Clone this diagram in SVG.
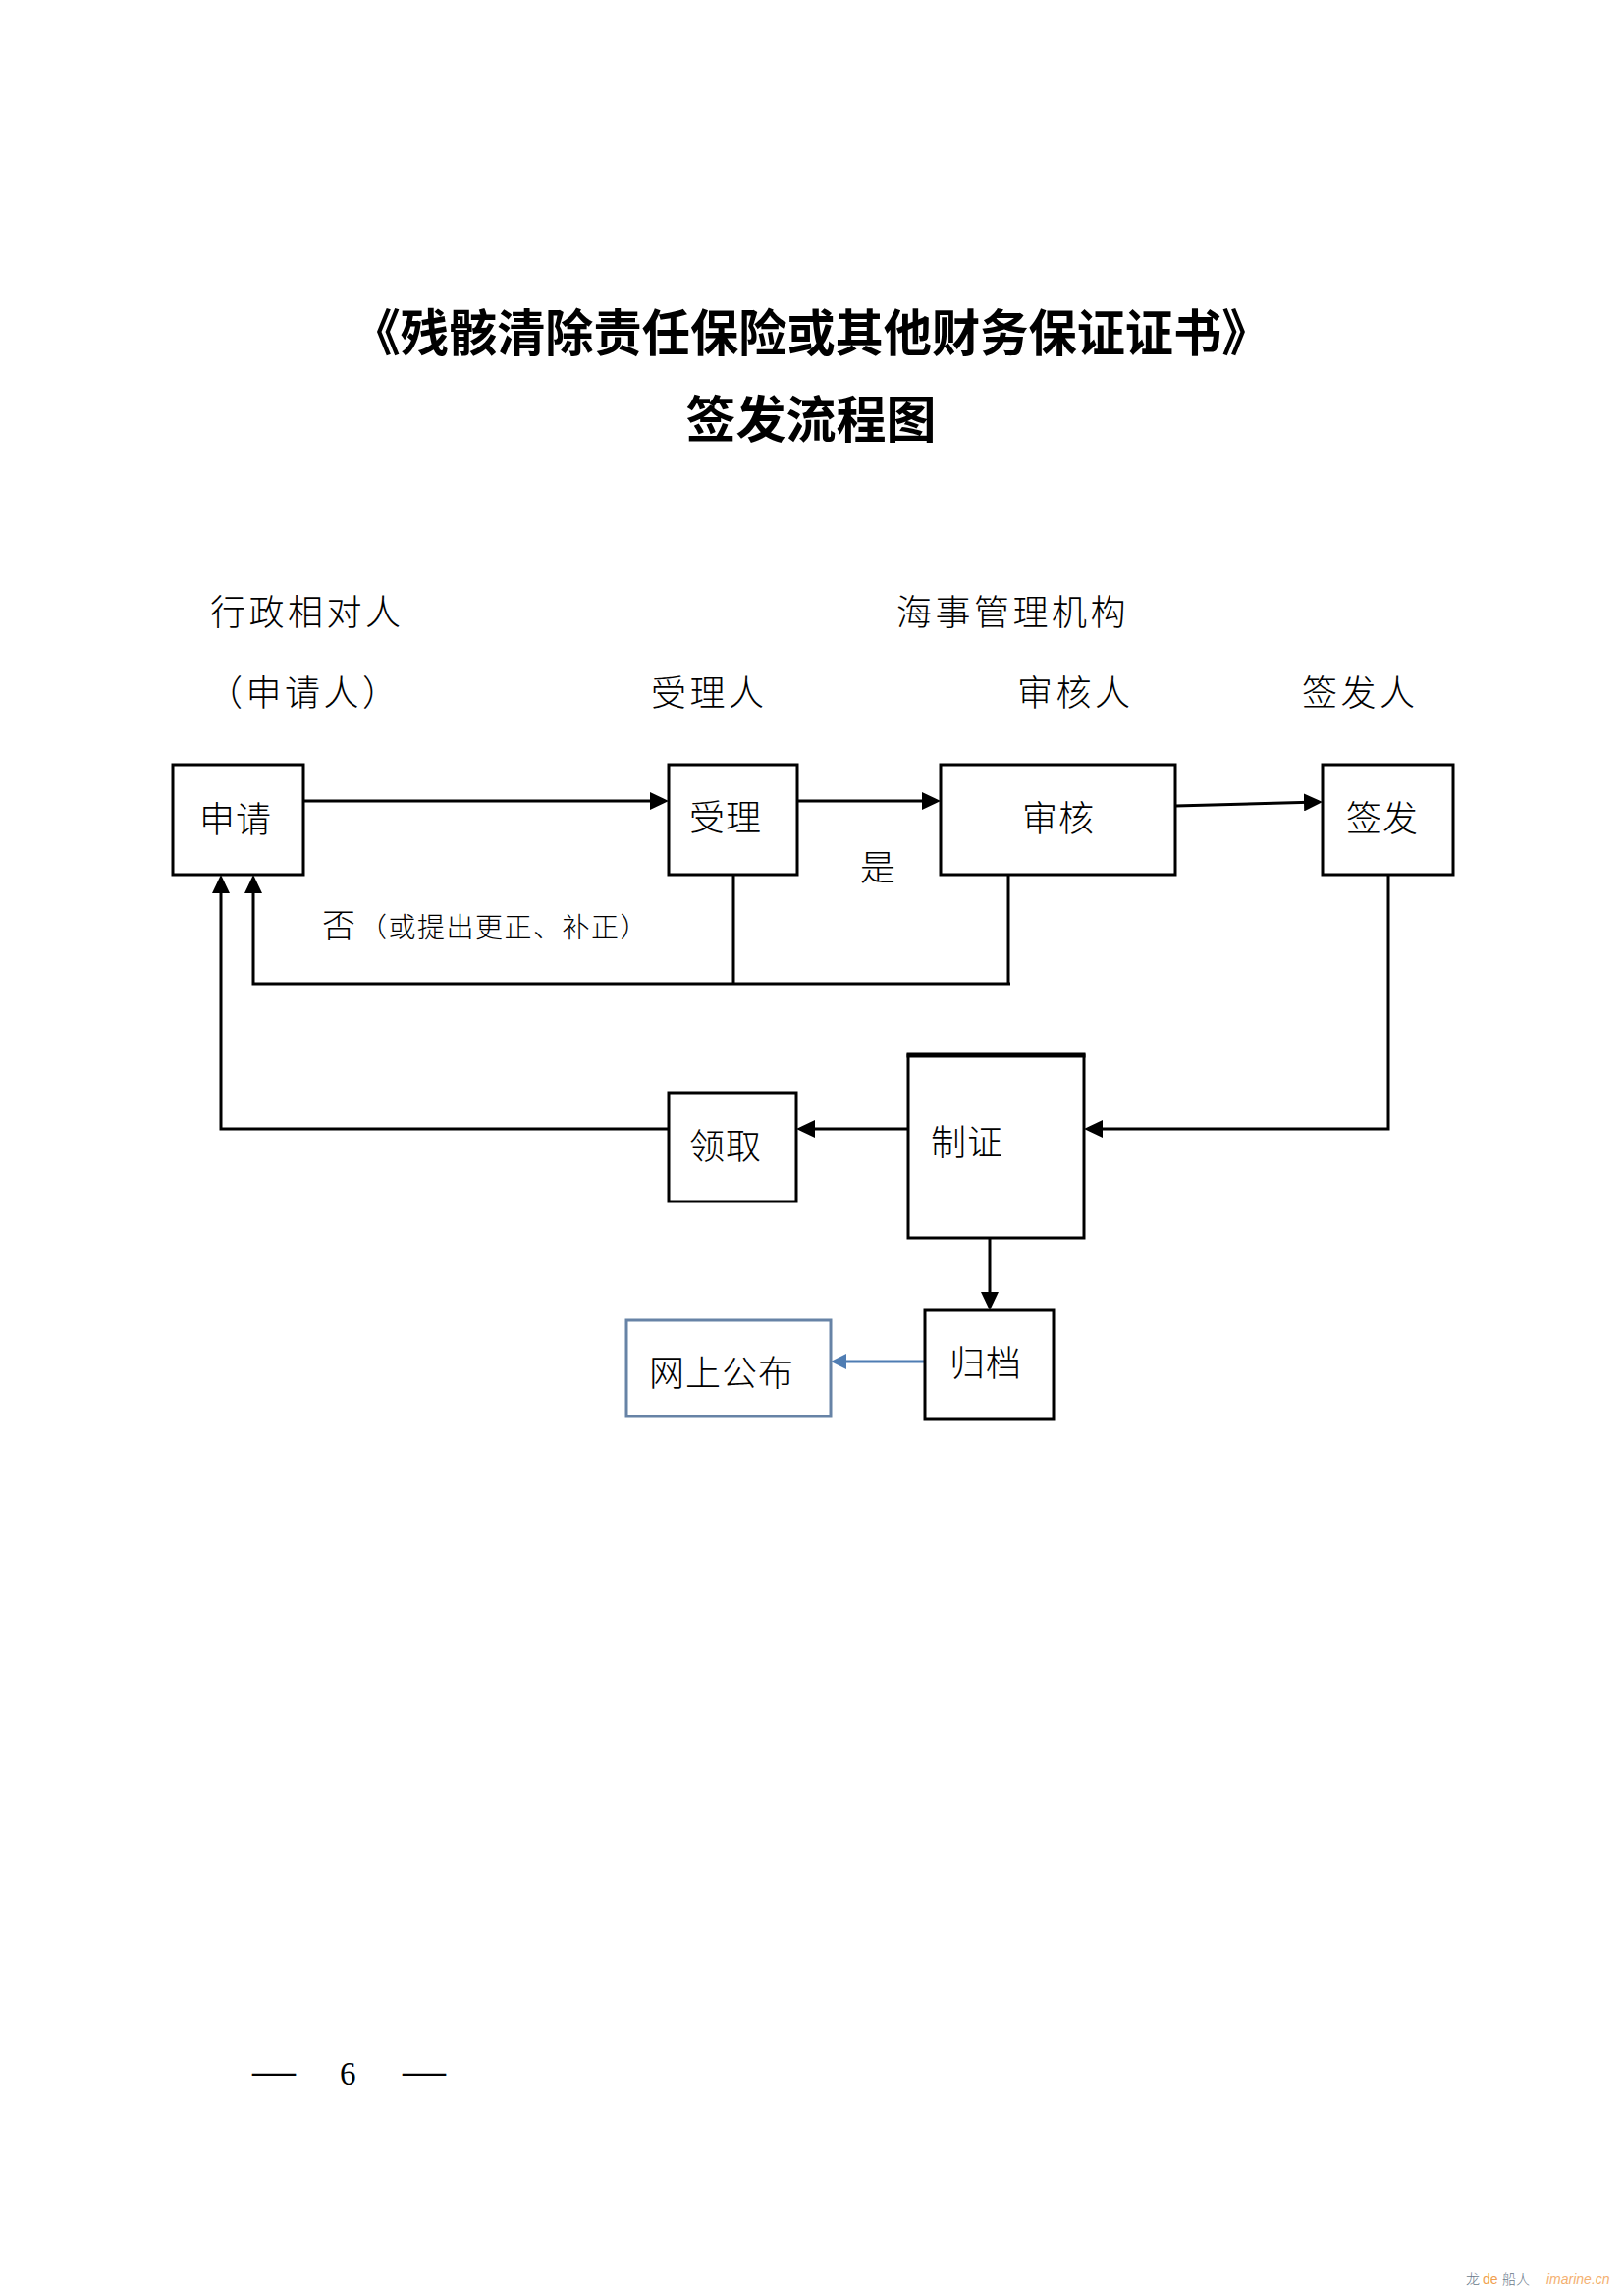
<svg xmlns="http://www.w3.org/2000/svg" width="1654" height="2339" viewBox="0 0 1654 2339">
<style>
  .cjk { font-family: "Noto Sans CJK SC", "Noto Sans", sans-serif; fill: #000; font-weight: 300; }
  .title { font-size: 51px; font-weight: 700; }
  .lbl { font-size: 36px; letter-spacing: 3.5px; }
  .box-t { font-size: 36px; letter-spacing: 1px; }
  .box { fill: #fff; stroke: #000; stroke-width: 3; }
  .blue-box { fill: #fff; stroke: #6783a6; stroke-width: 3; }
  .conn { fill: none; stroke: #000; stroke-width: 3; }
  .conn-blue { fill: none; stroke: #4f7db3; stroke-width: 3; }
</style>
<defs>
  <marker id="arr" viewBox="0 0 19 18" refX="15" refY="9" markerWidth="19" markerHeight="18" markerUnits="userSpaceOnUse" orient="auto">
    <path d="M0,0 L19,9 L0,18 Z" fill="#000"/>
  </marker>
  <marker id="arr-blue" viewBox="0 0 16 16" refX="12" refY="8" markerWidth="16" markerHeight="16" markerUnits="userSpaceOnUse" orient="auto">
    <path d="M0,0 L16,8 L0,16 Z" fill="#4f7db3"/>
  </marker>
</defs>
<rect width="1654" height="2339" fill="#fff"/>

<g id="title">
  <text class="cjk title" x="826" y="358" text-anchor="middle" textLength="935" lengthAdjust="spacingAndGlyphs">《残骸清除责任保险或其他财务保证证书》</text>
  <text class="cjk title" x="826" y="446" text-anchor="middle">签发流程图</text>
</g>

<g id="headers">
  <text class="cjk lbl" x="214" y="637">行政相对人</text>
  <text class="cjk lbl" x="211" y="719">（申请人）</text>
  <text class="cjk lbl" x="663" y="719">受理人</text>
  <text class="cjk lbl" x="913" y="637">海事管理机构</text>
  <text class="cjk lbl" x="1036" y="719">审核人</text>
  <text class="cjk lbl" x="1326" y="719">签发人</text>
</g>

<g id="connectors">
  <path class="conn" d="M309,816 H677" marker-end="url(#arr)"/>
  <path class="conn" d="M812,816 H954" marker-end="url(#arr)"/>
  <path class="conn" d="M1197,821 L1343,817" marker-end="url(#arr)"/>
  <path class="conn" d="M747,891 V1002"/>
  <path class="conn" d="M1027,891 V1002"/>
  <path class="conn" d="M1029,1002 H258 V895" marker-end="url(#arr)"/>
  <path class="conn" d="M1414,891 V1150 H1108" marker-end="url(#arr)"/>
  <path class="conn" d="M925,1150 H815" marker-end="url(#arr)"/>
  <path class="conn" d="M681,1150 H225 V895" marker-end="url(#arr)"/>
  <path class="conn" d="M1008,1261 V1331" marker-end="url(#arr)"/>
  <path class="conn-blue" d="M942,1387 H850" marker-end="url(#arr-blue)"/>
</g>

<g id="edge-labels">
  <text class="cjk" x="876" y="897" font-size="36">是</text>
  <text class="cjk" x="328" y="955" font-size="34">否<tspan font-size="28" dx="4" letter-spacing="1.5">（或提出更正、补正）</tspan></text>
</g>

<g id="node-shenqing">
  <rect class="box" x="176" y="779" width="133" height="112"/>
  <text class="cjk box-t" x="203" y="848">申请</text>
</g>
<g id="node-shouli">
  <rect class="box" x="681" y="779" width="131" height="112"/>
  <text class="cjk box-t" x="702" y="846">受理</text>
</g>
<g id="node-shenhe">
  <rect class="box" x="958" y="779" width="239" height="112"/>
  <text class="cjk box-t" x="1041" y="847">审核</text>
</g>
<g id="node-qianfa">
  <rect class="box" x="1347" y="779" width="133" height="112"/>
  <text class="cjk box-t" x="1371" y="847">签发</text>
</g>
<g id="node-lingqu">
  <rect class="box" x="681" y="1113" width="130" height="111"/>
  <text class="cjk box-t" x="702" y="1181">领取</text>
</g>
<g id="node-zhizheng">
  <rect class="box" x="925" y="1075" width="179" height="186"/>
  <line x1="923.5" y1="1075" x2="1105.5" y2="1075" stroke="#000" stroke-width="5"/>
  <text class="cjk box-t" x="948" y="1177">制证</text>
</g>
<g id="node-guidang">
  <rect class="box" x="942" y="1335" width="131" height="111"/>
  <text class="cjk box-t" x="967" y="1402">归档</text>
</g>
<g id="node-wangshang">
  <rect class="blue-box" x="638" y="1345" width="208" height="98"/>
  <text class="cjk box-t" x="661" y="1412" letter-spacing="2">网上公布</text>
</g>

<g id="page-number">
  <text font-family="Liberation Serif, serif" y="2124" fill="#000"><tspan x="257" font-size="44">—</tspan><tspan x="346" font-size="33">6</tspan><tspan x="410" font-size="44">—</tspan></text>
</g>

<g id="watermark">
  <text class="cjk" y="2327" font-size="14" font-weight="700"><tspan x="1493" fill="#6b7b8c">龙</tspan><tspan x="1510" fill="#f0a050" font-family="Liberation Sans, sans-serif">de</tspan><tspan x="1530" fill="#6b7b8c">船人</tspan></text>
  <text x="1575" y="2327" font-size="14" font-style="italic" fill="#f4b070" font-family="Liberation Sans, sans-serif">imarine.cn</text>
</g>
</svg>
